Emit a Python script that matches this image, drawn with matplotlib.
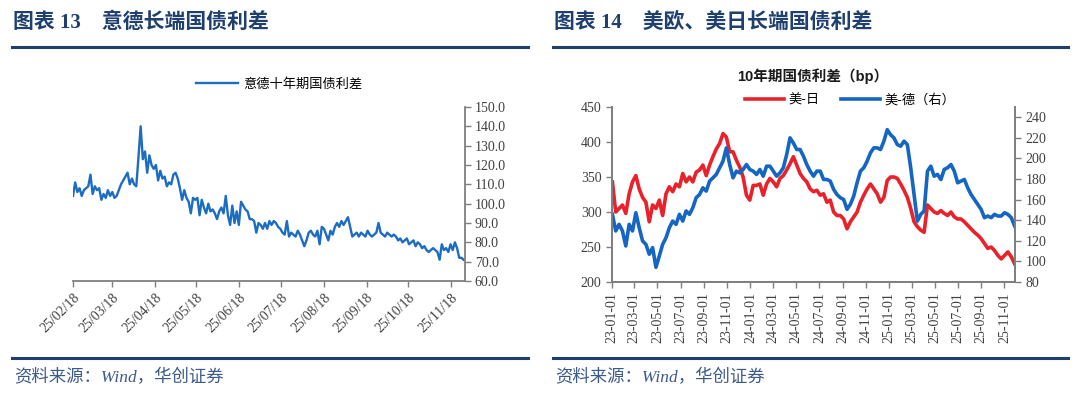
import numpy as np
import pandas as pd
import matplotlib
matplotlib.use("Agg")
import matplotlib.pyplot as plt
import matplotlib.dates as mdates
from matplotlib.lines import Line2D

plt.rcParams['font.family'] = ['Liberation Serif', 'Noto Sans CJK SC', 'DejaVu Sans']

# --------------- Data ---------------
# 意德十年期国债利差, 2025-02-18 .. 2025-11-27
it_de_spread = [
    104, 111, 106, 108, 104, 107, 108, 109, 115, 105,
    109, 107, 108, 102, 105, 103, 107, 104, 106, 103, 104, 107, 110,
    112, 114, 116, 110, 113, 110, 109, 124, 140,
    123, 127, 116, 125, 120, 118,
    120, 112, 117, 113, 114, 109, 111, 110, 115, 116,
    113, 108, 102, 107, 103, 101, 95, 103,
    102, 103, 94, 102, 98, 95, 100, 96, 97, 95, 92,
    96, 98, 95, 104, 94, 89, 99, 90, 96, 89, 101,
    99, 97, 96, 92, 92, 91, 85, 90, 89,
    87, 90, 87, 91, 89, 91, 90,
    88, 87, 85, 84, 91, 83, 85, 84, 83, 86, 84, 81, 78,
    81, 85, 86, 84, 83, 86, 79, 88, 87, 84, 81, 86, 84, 88,
    90, 88, 91, 89, 91, 93, 88, 83,
    84, 85, 83, 85, 84, 83, 86, 84, 83, 84, 85, 90,
    85, 84, 83, 85, 84, 83, 84, 83, 81, 82, 80, 81,
    82, 79, 80, 81, 78, 80, 79, 77, 78, 76, 75, 76, 77,
    76, 75, 71, 79, 76, 77, 75, 79, 76, 80, 77, 72, 72, 71,
]
it_de_start, it_de_end = '2025-02-18', '2025-11-27'
it_de_ticks = pd.date_range('2025-02-18', periods=10, freq=pd.DateOffset(months=1))

# 美-日 (left axis), 2023-01-02 .. 2025-11-28
us_jp_spread = [
    343, 300, 305, 310, 298, 326, 343, 352, 333, 321, 314, 286, 310, 305,
    317, 295, 326, 336, 329, 340, 336, 355, 343, 350, 343, 357, 360, 367,
    352, 367, 379, 390, 398, 412, 407, 386, 386, 374, 364, 350, 324, 317,
    338, 338, 340, 324, 340, 348, 343, 336, 348, 352, 360, 369, 379, 367,
    355, 348, 343, 333, 329, 331, 324, 326, 314, 317, 300, 295, 295, 290,
    276, 286, 293, 300, 314, 324, 333, 340, 333,
    326, 314, 321, 345, 350, 350, 348, 340, 331, 321, 305, 286, 279, 274,
    271, 310, 305, 300, 298, 302, 298, 295, 300, 293, 290, 290, 286, 281,
    276, 271, 267, 262, 255, 248, 250, 245, 238, 233, 238, 243, 236, 226,
]
# 美-德 (right axis), same dates
us_de_spread = [
    145.7, 129.6, 136.0, 129.6, 115.0, 136.0, 129.6, 147.3, 132.8, 119.9,
    116.6, 107.0, 113.4, 94.3, 105.3, 116.6, 123.0, 132.8, 139.2, 136.0,
    145.7, 139.2, 149.0, 145.7, 152.2, 161.9, 165.0, 171.5, 168.3, 178.0,
    181.2, 184.5, 191.0, 197.4, 210.3, 194.1, 181.2, 187.7, 186.0, 189.3,
    194.1, 189.3,
    187.7, 184.5, 189.3, 182.8, 192.5, 192.5, 187.7, 182.8, 186.0, 191.0,
    203.8, 220.0, 215.0, 208.7, 208.7, 202.2, 194.1, 187.7, 182.8, 187.7,
    187.7, 179.6, 179.6, 178.0, 170.0, 165.0, 161.9, 160.2, 150.6, 155.4,
    163.5, 176.4, 187.7, 191.0, 197.4, 205.5, 210.3,
    210.3, 208.7, 216.8, 228.0, 223.0, 220.0, 213.5, 211.9, 216.8, 213.5,
    191.0, 165.0, 139.2, 145.7, 149.0, 187.7, 192.5, 182.8, 184.5, 179.6,
    189.3, 191.0, 194.1, 187.7, 176.4, 178.0, 179.6, 171.5, 165.0, 160.2,
    155.4, 150.6, 142.5, 144.1, 142.5, 145.7, 144.1, 144.1, 147.3, 145.7,
    142.5, 134.4,
]
us_start, us_end = '2023-01-02', '2025-11-28'

title_left = '图表 13    意德长端国债利差'
title_right = '图表 14    美欧、美日长端国债利差'
source_text = '资料来源：Wind，华创证券'

navy = '#1F3F6F'
grey = '#7F7F7F'
tick_color = '#404040'

fig = plt.figure(figsize=(10.8, 3.98), dpi=100)
W, H = 1080.0, 398.0

def fx(px):
    return px / W

def fy(py):
    return 1 - py / H

# --------------- frame: titles, rules, sources ---------------
for x0, x1, title in [(12, 528, title_left), (553, 1068, title_right)]:
    fig.text(fx(x0 + 1), fy(23), title, fontsize=15, fontweight='bold', color=navy,
             va='center', ha='left')
    fig.add_artist(Line2D([fx(x0), fx(x1)], [fy(47), fy(47)], color=navy, lw=2.2))
    fig.add_artist(Line2D([fx(x0), fx(x1)], [fy(358), fy(358)], color=navy, lw=2.2))
    fig.text(fx(x0 + 2), fy(378), source_text, fontsize=12.5, style='italic', color='#3C5A8A',
             va='center', ha='left')

# --------------- left chart ---------------
ax1 = fig.add_axes([fx(73), fy(281), fx(465 - 73), (281 - 107) / H])
d1 = pd.date_range(it_de_start, it_de_end, periods=len(it_de_spread))
ax1.plot(d1, it_de_spread, color='#1C6DC1', lw=1.7, label='意德十年期国债利差')
ax1.set_xlim(pd.Timestamp('2025-02-18'), pd.Timestamp('2025-11-28'))
ax1.set_ylim(60, 150)
ax1.yaxis.tick_right()
ax1.set_yticks(np.arange(60, 151, 10))
ax1.yaxis.set_major_formatter(matplotlib.ticker.FormatStrFormatter('%.1f'))
ax1.set_xticks(it_de_ticks)
ax1.xaxis.set_major_formatter(mdates.DateFormatter('%y/%m/%d'))
for s in ['top', 'left']:
    ax1.spines[s].set_visible(False)
for s in ['right', 'bottom']:
    ax1.spines[s].set_color(grey)
    ax1.spines[s].set_linewidth(1.3)
ax1.tick_params(axis='both', direction='out', color=grey, length=4, width=1,
                labelsize=10, labelcolor=tick_color)
ax1.tick_params(axis='y', pad=3)
for lab in ax1.get_xticklabels():
    lab.set_rotation(45)
    lab.set_ha('right')
    lab.set_rotation_mode('anchor')
ax1.legend(loc='center', bbox_to_anchor=(fx(279), fy(84)), bbox_transform=fig.transFigure,
           frameon=False, handlelength=3.2, handletextpad=0.4,
           prop={'family': ['Noto Sans CJK SC'], 'size': 9.5})

# --------------- right chart ---------------
ax2 = fig.add_axes([fx(612), fy(282), fx(1015 - 612), (282 - 107) / H])
ax3 = ax2.twinx()
d2 = pd.date_range(us_start, us_end, periods=len(us_jp_spread))
ax2.plot(d2, us_jp_spread, color='#E8212B', lw=2.6, label='美-日')
ax3.plot(d2, us_de_spread, color='#1466C2', lw=2.6, label='美-德（右）')
ax2.set_xlim(pd.Timestamp('2023-01-01'), pd.Timestamp('2025-11-29'))
ax2.set_ylim(200, 450)
ax2.set_yticks(np.arange(200, 451, 50))
ax3.set_ylim(80, 250)
ax3.set_yticks(np.arange(80, 241, 20))
ax2.xaxis.set_major_locator(mdates.MonthLocator(bymonth=[1, 3, 5, 7, 9, 11]))
ax2.xaxis.set_major_formatter(mdates.DateFormatter('%y-%m-%d'))
for ax in (ax2, ax3):
    ax.spines['top'].set_visible(False)
    for s in ['left', 'right', 'bottom']:
        ax.spines[s].set_color(grey)
        ax.spines[s].set_linewidth(1.3)
    ax.tick_params(axis='both', direction='out', color=grey, length=4, width=1,
                   labelsize=10, labelcolor=tick_color)
for lab in ax2.get_xticklabels():
    lab.set_rotation(90)

fig.text(fx(813), fy(76), '10年期国债利差（bp）', fontsize=10.5, fontweight='bold',
         color='#1A1A1A', ha='center', va='center',
         family=['Liberation Sans', 'Noto Sans CJK SC'])
handles = ax2.get_lines() + ax3.get_lines()
ax2.legend(handles, [h.get_label() for h in handles], loc='center',
           bbox_to_anchor=(fx(850), fy(100)), bbox_transform=fig.transFigure,
           ncol=2, frameon=False, handlelength=3.0, handletextpad=0.3, columnspacing=1.6,
           prop={'family': ['Noto Sans CJK SC'], 'size': 9.5})

fig.savefig('out.png', dpi=100)
